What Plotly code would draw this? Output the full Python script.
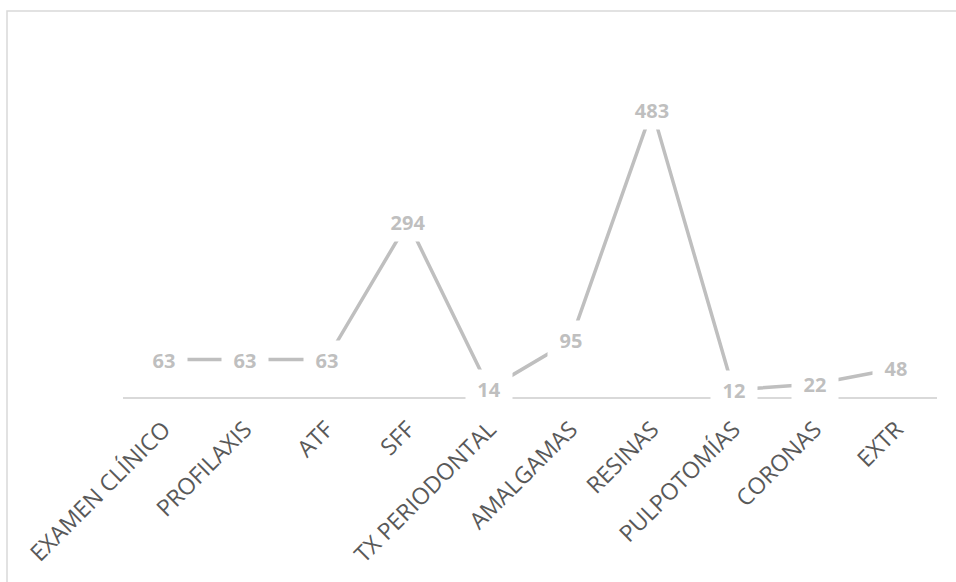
import plotly.graph_objects as go

categories = ["EXAMEN CLÍNICO", "PROFILAXIS", "ATF", "SFF", "TX PERIODONTAL",
              "AMALGAMAS", "RESINAS", "PULPOTOMÍAS", "CORONAS", "EXTR"]
values = [63, 63, 63, 294, 14, 95, 483, 12, 22, 48]

W, H = 956, 582
ML, MR, MT, MB = 123, 19, 40, 185
pw, ph = W - ML - MR, H - MT - MB

fig = go.Figure()
fig.add_trace(go.Scatter(
    x=categories, y=values, mode="lines",
    line=dict(color="#bfbfbf", width=3.5),
    hoverinfo="skip", showlegend=False,
))

for c, v in zip(categories, values):
    fig.add_annotation(
        x=c, y=v, text=f"<b>{v}</b>", showarrow=False,
        font=dict(family="Open Sans", size=20, color="#bfbfbf"),
        bgcolor="white", borderpad=4, width=38, height=30,
        xanchor="center", yanchor="middle", align="center", valign="middle",
    )

def px_x(p):
    return (p - ML) / pw

def px_y(p):
    return (H - MB - p) / ph

fig.add_shape(type="rect", xref="paper", yref="paper",
              x0=px_x(7), x1=px_x(970), y0=px_y(11), y1=px_y(600),
              line=dict(color="#d9d9d9", width=1.5), fillcolor="rgba(0,0,0,0)",
              layer="below")

fig.update_layout(
    width=W, height=H,
    margin=dict(l=ML, r=MR, t=MT, b=MB),
    paper_bgcolor="white", plot_bgcolor="white",
    xaxis=dict(
        type="category", showgrid=False, zeroline=False,
        showline=True, linecolor="#d9d9d9", linewidth=1.5,
        ticks="", tickangle=-45, ticklabelstandoff=8,
        tickfont=dict(family="Open Sans", size=23, color="#595959"),
        range=[-0.5, len(categories) - 0.5],
    ),
    yaxis=dict(range=[0, 600], visible=False, showgrid=False, zeroline=False),
)

fig.write_html("out.html")
